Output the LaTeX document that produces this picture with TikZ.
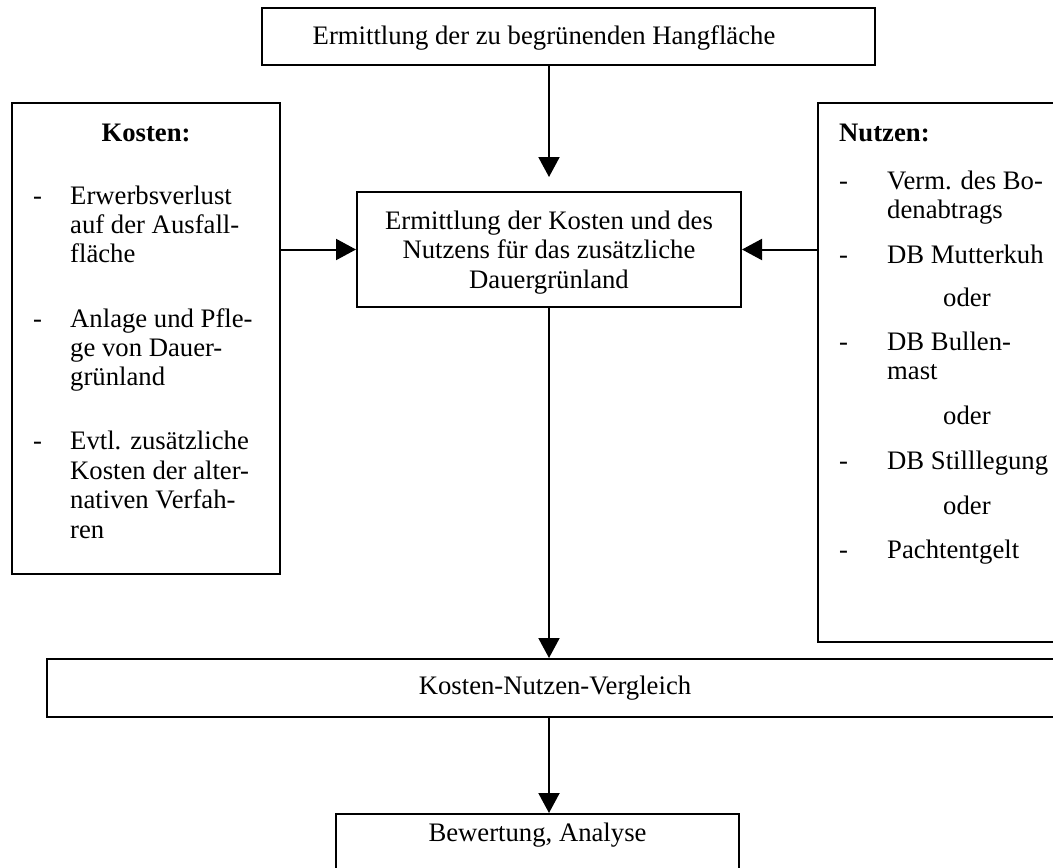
\documentclass[tikz,border=0pt]{standalone}
\usepackage{fontspec}
\setmainfont{Liberation Serif}
\usetikzlibrary{arrows.meta}
\begin{document}
\fontsize{26.7}{29.5}\selectfont
\begin{tikzpicture}[x=1pt,y=-1pt,
  box/.style={draw, line width=2pt, inner sep=0pt, align=center},
  arr/.style={line width=2pt, -{Triangle[length=20pt,width=21pt]}},
  line/.style={inner sep=0pt, anchor=base west},
  head/.style={inner sep=0pt, font=\bfseries}]
\clip (0,0) rectangle (1053,868);
\fill[white] (0,0) rectangle (1053,868);

% main flow
\node[box, minimum width=613pt, minimum height=57pt] (top) at (568.5,36.5) {};
\node[line, anchor=base] (toptext) at (544,44) {Ermittlung der zu begrünenden Hangfläche};
\node[box, minimum width=384pt, minimum height=115pt] (mid) at (549,249.5) {};
\node[inner sep=0pt, align=center] (midtext) at (549,252.5)
  {Ermittlung der Kosten und des\\Nutzens für das zusätzliche\\Dauergrünland};
\node[box, minimum width=1016pt, minimum height=58pt] (knv) at (555,688)
  {Kosten-Nutzen-Vergleich};
\node[box, minimum width=403pt, minimum height=60pt, anchor=north] (bew) at (537.5,813) {};
\node[line, anchor=base] (bewtext) at (537.5,841) {Bewertung, Analyse};

% side boxes
\node[box, minimum width=268pt, minimum height=471pt] (kosten) at (146,338.5) {};
\node[box, minimum width=260pt, minimum height=539pt] (nutzen) at (948,372.5) {};

% costs
\node[head, anchor=base] (khead) at (146,141) {Kosten:};
\foreach \n/\y in {1/204,2/327,3/449}
  \node[line] (kd\n) at (33,\y) {-};
\foreach \n/\y/\t in {1/204/Erwerbsverlust, 2/233/auf der Ausfall-, 3/262/fläche,
    4/327/Anlage und Pfle-, 5/356/ge von Dauer-, 6/385/grünland,
    7/449/Evtl. zusätzliche, 8/479/Kosten der alter-, 9/508/nativen Verfah-, 10/538/ren}
  \node[line] (kl\n) at (70,\y) {\t};

% benefits
\node[head, anchor=base west] (nhead) at (839,141) {Nutzen:};
\foreach \n/\y in {1/189,2/263,3/350,4/469,5/558}
  \node[line] (nd\n) at (839,\y) {-};
\foreach \n/\y/\t in {1/189/Verm. des Bo-, 2/218/denabtrags, 3/263/DB Mutterkuh,
    4/350/DB Bullen-, 5/379/mast, 6/469/DB Stilllegung, 7/558/Pachtentgelt}
  \node[line] (nl\n) at (887,\y) {\t};
\foreach \n/\y in {1/306,2/424,3/514}
  \node[line] (nor\n) at (943,\y) {oder};

% connectors
\draw[arr] (top.south -| mid.north) -- ([yshift=14pt]mid.north);
\draw[arr] (kosten.east |- mid.west) -- (mid.west);
\draw[arr] (nutzen.west |- mid.east) -- (mid.east);
\draw[arr] (mid.south) -- (mid.south |- knv.north);
\draw[arr] (mid.south |- knv.south) -- (mid.south |- bew.north);
\end{tikzpicture}
\end{document}
